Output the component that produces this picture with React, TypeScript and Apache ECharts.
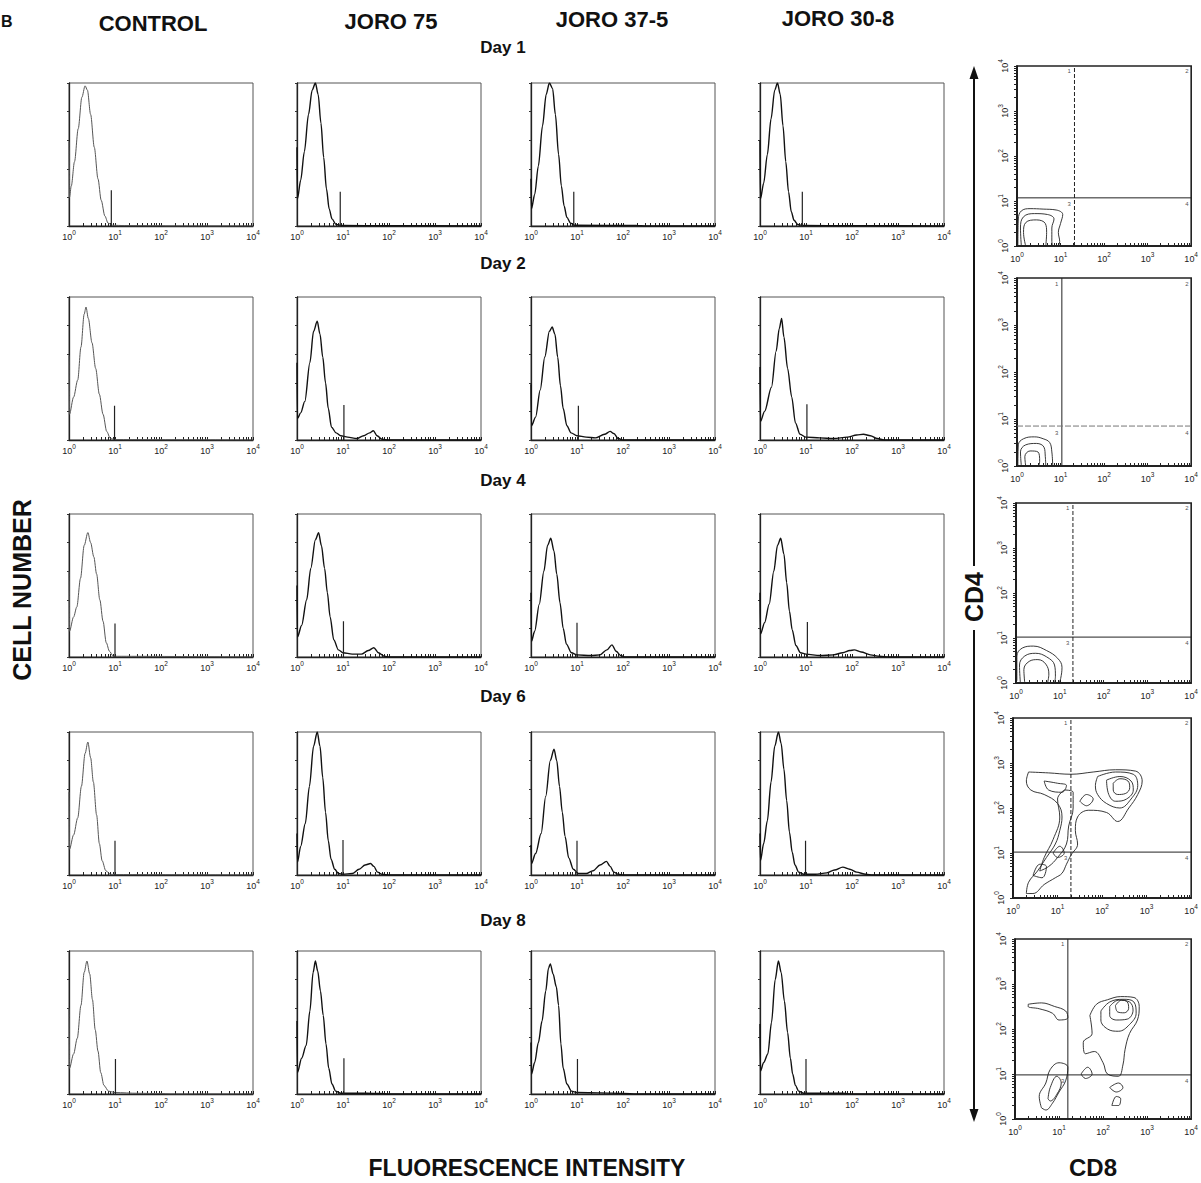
import React, { useEffect, useRef } from "react";
import * as echarts from "echarts";

// ---------- labels ----------
const columnTitles = ["CONTROL", "JORO 75", "JORO 37-5", "JORO 30-8"];
const dayTitles = ["Day 1", "Day 2", "Day 4", "Day 6", "Day 8"];
const decadeSup = ["0", "1", "2", "3", "4"];
const quadrantNames = ["1", "2", "3", "4"];

// ---------- histograms: [log10 fluorescence, relative cell number] ----------
const day1Control = [[0, 59], [0.01, 20], [0.05, 28], [0.12, 45], [0.2, 68], [0.28, 90], [0.35, 98], [0.4, 95], [0.47, 78], [0.55, 55], [0.63, 33], [0.7, 18], [0.78, 7], [0.85, 2], [0.95, 0.5], [1.2, 0.3], [2, 0.2], [2.1, 0], [4, 0]];
const day1Joro75 = [[0, 55], [0.01, 19], [0.08, 32], [0.16, 52], [0.25, 78], [0.33, 95], [0.4, 100], [0.46, 92], [0.52, 72], [0.58, 48], [0.64, 26], [0.7, 12], [0.76, 5], [0.85, 1], [1.0, 0.3], [2, 0.2], [4, 0]];
const day1Joro375 = [[0, 33], [0.01, 12], [0.08, 22], [0.16, 42], [0.25, 70], [0.33, 92], [0.4, 100], [0.47, 96], [0.53, 78], [0.6, 50], [0.66, 28], [0.72, 14], [0.78, 6], [0.86, 2], [0.95, 0.5], [2.3, 0.3], [2.5, 0], [4, 0]];
const day1Joro308 = [[0, 60], [0.01, 19], [0.08, 30], [0.16, 50], [0.24, 75], [0.32, 95], [0.38, 100], [0.44, 92], [0.5, 70], [0.56, 45], [0.62, 24], [0.68, 10], [0.74, 4], [0.82, 1], [0.95, 0.3], [2, 0.2], [4, 0]];

const day2Control = [[0, 59], [0.01, 18], [0.1, 30], [0.19, 42], [0.26, 65], [0.33, 88], [0.37, 93], [0.42, 85], [0.5, 68], [0.58, 50], [0.66, 32], [0.74, 18], [0.82, 6], [0.9, 1], [1.0, 0.3], [4, 0]];
const day2Joro75 = [[0, 54], [0.01, 15], [0.08, 19], [0.17, 27], [0.28, 54], [0.36, 76], [0.44, 83], [0.5, 74], [0.56, 58], [0.62, 40], [0.68, 22], [0.75, 9], [0.85, 5], [0.95, 3], [1.1, 2], [1.3, 1], [1.45, 3], [1.58, 5], [1.66, 6.5], [1.74, 3], [1.85, 0.5], [2.0, 0], [4, 0]];
const day2Joro375 = [[0, 39], [0.01, 10], [0.1, 16], [0.2, 35], [0.3, 58], [0.4, 76], [0.46, 79], [0.52, 74], [0.58, 58], [0.64, 38], [0.7, 22], [0.78, 10], [0.87, 5], [1.0, 3], [1.2, 2], [1.4, 1.5], [1.6, 4], [1.72, 6], [1.8, 4.5], [1.9, 1], [2.0, 0], [4, 0]];
const day2Joro308 = [[0, 51], [0.01, 13], [0.1, 20], [0.25, 37], [0.35, 62], [0.42, 78], [0.47, 85], [0.52, 72], [0.6, 50], [0.69, 30], [0.77, 12], [0.87, 4], [1.0, 2], [1.3, 1.5], [1.6, 1], [1.9, 2], [2.1, 3.5], [2.25, 4], [2.4, 3], [2.55, 1], [2.7, 0], [4, 0]];

const day4Control = [[0, 60], [0.01, 18], [0.1, 28], [0.17, 35], [0.25, 55], [0.33, 78], [0.41, 87], [0.47, 80], [0.54, 70], [0.6, 58], [0.67, 40], [0.74, 25], [0.81, 10], [0.88, 4], [0.96, 0.5], [4, 0]];
const day4Joro75 = [[0, 50], [0.01, 14], [0.1, 22], [0.21, 40], [0.3, 62], [0.4, 82], [0.47, 87], [0.53, 78], [0.6, 62], [0.66, 45], [0.72, 28], [0.8, 12], [0.9, 5], [1.0, 3], [1.2, 2], [1.4, 2], [1.55, 4.5], [1.67, 6.5], [1.77, 3], [1.9, 0.5], [2.0, 0], [4, 0]];
const day4Joro375 = [[0, 45], [0.01, 11], [0.08, 18], [0.18, 37], [0.28, 60], [0.36, 78], [0.43, 83], [0.5, 74], [0.56, 58], [0.63, 38], [0.7, 20], [0.77, 9], [0.88, 3], [1.0, 1.5], [1.3, 1], [1.5, 1.5], [1.65, 5], [1.76, 8.5], [1.85, 4], [1.95, 1], [2.05, 0], [4, 0]];
const day4Joro308 = [[0, 45], [0.01, 16], [0.1, 24], [0.2, 37], [0.3, 60], [0.38, 78], [0.45, 83], [0.52, 72], [0.58, 52], [0.64, 32], [0.7, 19], [0.78, 8], [0.88, 3], [1.0, 2], [1.3, 1], [1.6, 1.5], [1.8, 3], [1.95, 4.5], [2.05, 5], [2.2, 3.5], [2.4, 1.5], [2.6, 0.5], [2.8, 0], [4, 0]];

const day6Control = [[0, 58], [0.01, 18], [0.1, 28], [0.19, 40], [0.27, 62], [0.35, 85], [0.41, 93], [0.47, 82], [0.53, 65], [0.6, 42], [0.66, 22], [0.72, 10], [0.8, 3], [0.9, 0.5], [1.0, 0.3], [4, 0]];
const day6Joro75 = [[0, 29], [0.01, 9], [0.08, 20], [0.18, 36], [0.27, 62], [0.36, 90], [0.44, 100], [0.5, 90], [0.56, 68], [0.62, 44], [0.68, 24], [0.74, 11], [0.82, 4], [0.9, 1], [1.0, 0.5], [1.2, 1], [1.35, 4], [1.48, 7], [1.6, 8], [1.67, 6], [1.75, 2], [1.85, 0.5], [2.0, 0], [4, 0]];
const day6Joro375 = [[0, 21], [0.01, 8], [0.1, 15], [0.22, 29], [0.32, 55], [0.42, 80], [0.5, 88], [0.56, 80], [0.62, 62], [0.68, 44], [0.74, 27], [0.82, 12], [0.92, 4], [1.03, 1], [1.2, 1], [1.35, 3], [1.5, 7], [1.64, 9.5], [1.72, 6], [1.8, 2], [1.9, 0.5], [2.0, 0], [4, 0]];
const day6Joro308 = [[0, 29], [0.01, 10], [0.08, 22], [0.16, 38], [0.24, 65], [0.32, 90], [0.4, 100], [0.46, 92], [0.52, 74], [0.58, 52], [0.64, 30], [0.7, 16], [0.76, 7], [0.84, 2], [0.95, 0.5], [1.2, 0.5], [1.45, 1.5], [1.62, 3.5], [1.8, 5.5], [1.95, 4], [2.1, 2], [2.3, 0.5], [2.45, 0], [4, 0]];

const day8Control = [[0, 60], [0.01, 18], [0.1, 28], [0.18, 39], [0.26, 62], [0.33, 85], [0.39, 93], [0.45, 84], [0.51, 66], [0.57, 45], [0.63, 30], [0.69, 15], [0.76, 6], [0.86, 2], [1.0, 1], [1.5, 0.5], [2, 0.3], [2.2, 0], [4, 0]];
const day8Joro75 = [[0, 51], [0.01, 15], [0.1, 25], [0.2, 34], [0.28, 58], [0.35, 85], [0.4, 93], [0.45, 86], [0.51, 72], [0.57, 55], [0.63, 35], [0.69, 18], [0.76, 7], [0.84, 2], [0.95, 0.5], [1.5, 0.5], [1.8, 0.3], [2, 0], [4, 0]];
const day8Joro375 = [[0, 36], [0.01, 14], [0.08, 22], [0.16, 36], [0.24, 51], [0.32, 72], [0.38, 88], [0.42, 91], [0.48, 84], [0.55, 75], [0.6, 62], [0.65, 35], [0.7, 18], [0.78, 7], [0.88, 2], [1.0, 1], [1.5, 0.8], [2, 0.4], [2.3, 0], [4, 0]];
const day8Joro308 = [[0, 49], [0.01, 16], [0.08, 22], [0.17, 28], [0.25, 50], [0.33, 80], [0.4, 93], [0.46, 85], [0.53, 65], [0.6, 43], [0.66, 25], [0.71, 14], [0.77, 6], [0.84, 2], [0.95, 0.5], [1.8, 0.5], [2, 0], [4, 0]];

// gate marker (position in decades, height)
const gateX = [[0.92, 0.94, 0.93, 0.92], [0.99, 1.02, 1.03, 1.02], [1.0, 1.01, 1.0, 1.03], [1.0, 1.0, 1.0, 0.99], [1.01, 1.02, 1.01, 1.0]];
const gateH = [[25, 24, 24, 24], [24, 24.5, 24, 25], [23.5, 25, 24, 24.5], [24, 24.5, 24, 24], [24.5, 25, 24.5, 24.5]];

// ---------- CD4 / CD8 contour plots (log10 CD8, log10 CD4) ----------
const quadX = [1.32, 1.03, 1.3, 1.3, 1.2];
const quadY = [1.07, 0.85, 1.02, 1.02, 0.98];
const quadVDashed = [true, false, true, true, false];
const quadHDashed = [false, true, false, false, false];

const contoursRow1 = [
  [[0.02, 0], [0.03, 0.6], [0.1, 0.78], [0.3, 0.83], [0.6, 0.82], [0.9, 0.8], [1.05, 0.7], [1.0, 0.5], [0.95, 0.3], [0.98, 0.1], [0.95, 0]],
  [[0.1, 0], [0.08, 0.4], [0.15, 0.65], [0.4, 0.72], [0.7, 0.7], [0.85, 0.6], [0.8, 0.4], [0.8, 0.1], [0.82, 0]],
  [[0.2, 0], [0.15, 0.3], [0.2, 0.52], [0.45, 0.58], [0.65, 0.5], [0.68, 0.3], [0.66, 0]],
];
const contoursRow2 = [
  [[0.02, 0], [0.03, 0.45], [0.15, 0.58], [0.4, 0.62], [0.6, 0.58], [0.75, 0.5], [0.8, 0.3], [0.82, 0]],
  [[0.1, 0], [0.08, 0.3], [0.2, 0.45], [0.45, 0.48], [0.62, 0.4], [0.65, 0.2], [0.66, 0]],
  [[0.2, 0], [0.18, 0.2], [0.3, 0.32], [0.48, 0.3], [0.52, 0.1], [0.5, 0]],
];
const contoursRow3 = [
  [[0.02, 0.05], [0.02, 0.6], [0.15, 0.78], [0.4, 0.82], [0.7, 0.72], [0.95, 0.55], [1.05, 0.35], [1.02, 0.1], [0.98, 0]],
  [[0.1, 0], [0.08, 0.4], [0.2, 0.6], [0.45, 0.66], [0.7, 0.58], [0.88, 0.4], [0.9, 0.15], [0.88, 0]],
  [[0.2, 0], [0.18, 0.3], [0.3, 0.48], [0.5, 0.52], [0.68, 0.42], [0.75, 0.2], [0.72, 0]],
];
const contoursRow4 = [
  [[0.35, 2.8], [0.8, 2.78], [1.3, 2.75], [1.8, 2.8], [2.3, 2.85], [2.75, 2.82], [2.9, 2.6], [2.8, 2.3], [2.6, 2.0], [2.35, 1.7], [2.1, 1.9], [1.7, 1.95], [1.45, 1.8], [1.4, 1.5], [1.45, 1.2], [1.3, 0.95], [1.2, 0.75], [1.1, 0.55], [0.95, 0.45], [0.7, 0.3], [0.45, 0.1], [0.3, 0.1], [0.35, 0.35], [0.55, 0.6], [0.75, 0.9], [0.95, 1.2], [1.05, 1.5], [1.1, 1.8], [1.0, 2.1], [0.7, 2.3], [0.4, 2.4], [0.3, 2.6], [0.35, 2.8]],
  [[1.9, 2.7], [2.3, 2.8], [2.7, 2.75], [2.8, 2.5], [2.65, 2.2], [2.4, 2.0], [2.1, 2.1], [1.9, 2.3], [1.85, 2.5], [1.9, 2.7]],
  [[2.1, 2.62], [2.4, 2.7], [2.65, 2.6], [2.7, 2.4], [2.55, 2.2], [2.3, 2.15], [2.15, 2.3], [2.1, 2.62]],
  [[2.25, 2.55], [2.4, 2.65], [2.58, 2.6], [2.62, 2.45], [2.52, 2.32], [2.35, 2.3], [2.25, 2.4], [2.25, 2.55]],
  [[1.15, 2.4], [1.35, 2.35], [1.35, 2.0], [1.25, 1.6], [1.2, 1.2], [1.0, 0.9], [0.8, 0.7], [0.6, 0.6], [0.7, 0.9], [0.9, 1.3], [1.05, 1.8], [1.0, 2.2], [1.15, 2.4]],
  [[0.7, 2.6], [1.0, 2.55], [1.2, 2.5], [1.1, 2.35], [0.8, 2.4], [0.7, 2.6]],
  [[0.45, 0.5], [0.6, 0.75], [0.75, 0.7], [0.65, 0.45], [0.45, 0.5]],
  [[0.9, 1.0], [1.05, 1.15], [1.15, 1.0], [1.0, 0.9], [0.9, 1.0]],
  [[1.5, 2.15], [1.65, 2.3], [1.8, 2.2], [1.65, 2.05], [1.5, 2.15]],
];
const contoursRow5 = [
  [[1.7, 2.3], [1.85, 2.55], [2.1, 2.65], [2.4, 2.72], [2.7, 2.7], [2.82, 2.5], [2.78, 2.2], [2.6, 1.9], [2.5, 1.55], [2.45, 1.2], [2.35, 0.95], [2.1, 1.0], [2.0, 1.25], [1.8, 1.5], [1.6, 1.45], [1.55, 1.7], [1.75, 1.9], [1.7, 2.3]],
  [[1.95, 2.4], [2.15, 2.6], [2.45, 2.66], [2.7, 2.6], [2.75, 2.35], [2.6, 2.1], [2.35, 1.95], [2.1, 2.0], [1.95, 2.2], [1.95, 2.4]],
  [[2.15, 2.5], [2.35, 2.64], [2.6, 2.6], [2.68, 2.42], [2.55, 2.22], [2.3, 2.2], [2.15, 2.3], [2.15, 2.5]],
  [[2.28, 2.52], [2.42, 2.64], [2.55, 2.6], [2.58, 2.46], [2.48, 2.36], [2.33, 2.38], [2.28, 2.52]],
  [[0.3, 2.55], [0.6, 2.58], [0.9, 2.5], [1.15, 2.4], [1.2, 2.25], [1.0, 2.2], [0.85, 2.35], [0.55, 2.45], [0.3, 2.5], [0.3, 2.55]],
  [[0.6, 0.25], [0.55, 0.5], [0.7, 0.8], [0.8, 1.1], [1.0, 1.25], [1.2, 1.15], [1.15, 0.85], [1.0, 0.6], [0.85, 0.35], [0.7, 0.2], [0.6, 0.25]],
  [[0.75, 0.45], [0.8, 0.7], [0.95, 0.95], [1.05, 0.8], [0.95, 0.55], [0.8, 0.4], [0.75, 0.45]],
  [[2.2, 0.3], [2.3, 0.5], [2.4, 0.45], [2.35, 0.3], [2.2, 0.3]],
  [[2.15, 0.7], [2.35, 0.8], [2.45, 0.7], [2.3, 0.6], [2.15, 0.7]],
  [[1.5, 1.0], [1.65, 1.15], [1.75, 1.0], [1.6, 0.9], [1.5, 1.0]],
];

const histograms = [
  [day1Control, day1Joro75, day1Joro375, day1Joro308],
  [day2Control, day2Joro75, day2Joro375, day2Joro308],
  [day4Control, day4Joro75, day4Joro375, day4Joro308],
  [day6Control, day6Joro75, day6Joro375, day6Joro308],
  [day8Control, day8Joro75, day8Joro375, day8Joro308],
];
const contours = [contoursRow1, contoursRow2, contoursRow3, contoursRow4, contoursRow5];

// ---------- layout ----------
const FONT = "'Liberation Sans', Arial, Helvetica, sans-serif";
const colLeft = [69, 297, 531, 760];
const colWidth = 184;
const rowTop = [83, 297, 514, 732, 951];
const rowHeight = 143;
const rightLeft = [1017, 1017, 1016, 1013, 1015];
const rightWidth = [182, 182, 181, 184, 184];
const rightTop = [66, 278, 503, 718, 939];
const rightHeight = [180, 188, 180, 180, 180];
const headerX = [153, 391, 612, 838];
const headerY = [23, 21, 19, 18];
const dayY = [47, 263, 480, 696, 920];

// log-spaced tick positions for a 4-decade axis
const logTicks: number[] = [];
for (let d = 0; d < 4; d++) {
  for (let k = 1; k <= 9; k++) logTicks.push(d + Math.log10(k));
}
logTicks.push(4);

const supRich = {
  b: { fontSize: 9, lineHeight: 15, fontFamily: FONT, color: "#222" },
  s: { fontSize: 6.5, verticalAlign: "top", fontFamily: FONT, color: "#222" },
};
const decadeFormatter = (v: number) => `{b|10}{s|${decadeSup[Math.round(v)] ?? ""}}`;

function buildOption() {
  const grid: any[] = [];
  const xAxis: any[] = [];
  const yAxis: any[] = [];
  const series: any[] = [];
  let gi = 0;

  // histograms
  for (let r = 0; r < 5; r++) {
    for (let c = 0; c < 4; c++) {
      grid.push({ left: colLeft[c], top: rowTop[r], width: colWidth, height: rowHeight, show: true, borderColor: "#555", borderWidth: 1 });
      xAxis.push({
        gridIndex: gi, type: "value", min: 0, max: 4, interval: 1,
        axisLine: { show: true, lineStyle: { color: "#222", width: 1.3 } },
        axisTick: { show: true, inside: true, length: 3, customValues: logTicks, lineStyle: { color: "#222", width: 1 } },
        axisLabel: { show: true, margin: 3, formatter: decadeFormatter, rich: supRich },
        splitLine: { show: false },
      });
      yAxis.push({
        gridIndex: gi, type: "value", min: 0, max: 100, interval: 20,
        axisLine: { show: true, lineStyle: { color: "#222", width: 1.3 } },
        axisTick: { show: true, inside: false, length: 2, lineStyle: { color: "#333" } },
        axisLabel: { show: false }, splitLine: { show: false },
      });
      series.push({
        type: "line", xAxisIndex: gi, yAxisIndex: gi, data: histograms[r][c],
        showSymbol: false, symbol: "none", smooth: 0.3, smoothMonotone: "x",
        lineStyle: { color: c === 0 ? "#555" : "#111", width: c === 0 ? 1 : 1.4 },
        silent: true,
      });
      series.push({
        type: "line", xAxisIndex: gi, yAxisIndex: gi,
        data: [[gateX[r][c], 0], [gateX[r][c], gateH[r][c]]],
        showSymbol: false, symbol: "none", lineStyle: { color: "#222", width: 1.2 }, silent: true,
      });
      gi++;
    }
  }

  // contour plots
  for (let r = 0; r < 5; r++) {
    grid.push({ left: rightLeft[r], top: rightTop[r], width: rightWidth[r], height: rightHeight[r], show: true, borderColor: "#222", borderWidth: 1.6 });
    xAxis.push({
      gridIndex: gi, type: "value", min: 0, max: 4, interval: 1,
      axisLine: { show: true, lineStyle: { color: "#111", width: 1.6 } },
      axisTick: { show: true, inside: true, length: 3, customValues: logTicks, lineStyle: { color: "#222" } },
      axisLabel: { show: true, margin: 5, formatter: decadeFormatter, rich: supRich },
      splitLine: { show: false },
    });
    yAxis.push({
      gridIndex: gi, type: "value", min: 0, max: 4, interval: 1,
      axisLine: { show: true, lineStyle: { color: "#111", width: 1.6 } },
      axisTick: { show: true, inside: false, length: 3, customValues: logTicks, lineStyle: { color: "#222" } },
      axisLabel: { show: true, margin: 5, rotate: 90, formatter: decadeFormatter, rich: supRich },
      splitLine: { show: false },
    });
    contours[r].forEach((loop) => {
      series.push({
        type: "line", xAxisIndex: gi, yAxisIndex: gi, data: loop,
        showSymbol: false, symbol: "none", smooth: 0.4,
        lineStyle: { color: "#222", width: 0.9 }, silent: true,
      });
    });
    series.push({
      type: "line", xAxisIndex: gi, yAxisIndex: gi, data: [[quadX[r], 0], [quadX[r], 4]],
      showSymbol: false, symbol: "none",
      lineStyle: { color: "#222", width: 1, type: quadVDashed[r] ? [4, 2] : "solid" }, silent: true,
    });
    series.push({
      type: "line", xAxisIndex: gi, yAxisIndex: gi, data: [[0, quadY[r]], [4, quadY[r]]],
      showSymbol: false, symbol: "none",
      lineStyle: { color: quadHDashed[r] ? "#777" : "#222", width: 1, type: quadHDashed[r] ? [6, 2] : "solid" }, silent: true,
    });
    series.push({
      type: "scatter", xAxisIndex: gi, yAxisIndex: gi, symbolSize: 1,
      itemStyle: { color: "rgba(0,0,0,0)" }, silent: true,
      label: { show: true, position: "inside", formatter: "{b}", fontSize: 6, fontFamily: FONT, color: "#222" },
      data: [
        { name: quadrantNames[0], value: [quadX[r] - 0.12, 3.88] },
        { name: quadrantNames[1], value: [3.9, 3.88] },
        { name: quadrantNames[2], value: [quadX[r] - 0.12, quadY[r] - 0.14] },
        { name: quadrantNames[3], value: [3.9, quadY[r] - 0.14] },
      ],
    });
    gi++;
  }

  const txt = (text: string, x: number, y: number, size: number, rotation = 0, align = "center") => ({
    type: "text", x, y, rotation, silent: true,
    style: {
      text, fill: "#111", fontSize: size, fontWeight: "bold", fontFamily: FONT,
      align, verticalAlign: "middle", textAlign: align, textVerticalAlign: "middle",
    },
  });

  const graphic: any[] = [];
  graphic.push(txt("B", 1, 21, 16, 0, "left"));
  columnTitles.forEach((t, i) => graphic.push(txt(t, headerX[i], headerY[i], 22)));
  dayTitles.forEach((t, i) => graphic.push(txt(t, 503, dayY[i], 17)));
  graphic.push(txt("CELL NUMBER", 22, 590, 25, Math.PI / 2));
  graphic.push(txt("FLUORESCENCE INTENSITY", 527, 1168, 23));
  graphic.push(txt("CD4", 974, 597, 25, Math.PI / 2));
  graphic.push(txt("CD8", 1093, 1167, 24));
  graphic.push({ type: "line", silent: true, shape: { x1: 974, y1: 76, x2: 974, y2: 566 }, style: { stroke: "#111", lineWidth: 2 } });
  graphic.push({ type: "line", silent: true, shape: { x1: 974, y1: 630, x2: 974, y2: 1112 }, style: { stroke: "#111", lineWidth: 2 } });
  graphic.push({ type: "polygon", silent: true, shape: { points: [[974, 66], [969.5, 79], [978.5, 79]] }, style: { fill: "#111" } });
  graphic.push({ type: "polygon", silent: true, shape: { points: [[974, 1122], [969.5, 1109], [978.5, 1109]] }, style: { fill: "#111" } });

  return {
    animation: false,
    backgroundColor: "#ffffff",
    grid, xAxis, yAxis, series, graphic,
  };
}

export default function App() {
  const ref = useRef<HTMLDivElement>(null);
  useEffect(() => {
    if (!ref.current) return;
    const chart = echarts.init(ref.current, null, { renderer: "svg" });
    chart.setOption(buildOption() as any);
    return () => chart.dispose();
  }, []);
  return (
    <div
      ref={ref}
      style={{ position: "absolute", left: 0, top: 0, width: 1201, height: 1183, background: "#fff" }}
    />
  );
}
